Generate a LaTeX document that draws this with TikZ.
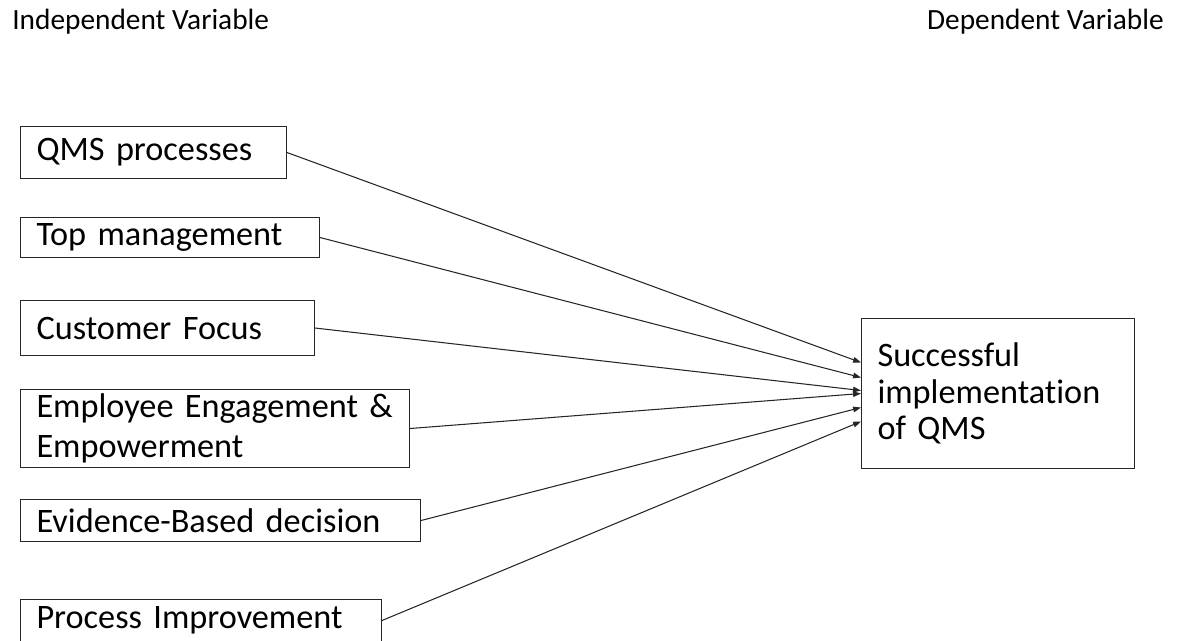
\documentclass[tikz,border=0pt]{standalone}
\usepackage{fontspec}
\setmainfont{Carlito}[Ligatures=NoCommon]
\usetikzlibrary{arrows.meta}

\begin{document}
\begin{tikzpicture}[
        x=0.02cm, y=-0.02cm,
        % Box styles
        varbox/.style={rectangle, draw=black!85, line width=0.6pt, anchor=north west, inner xsep=0.32cm, inner ysep=0pt, align=left, font=\fontsize{19.5}{22.7}\selectfont},
        headlabel/.style={inner sep=0pt, font=\fontsize{16.7}{19}\selectfont},
        arrow/.style={draw=black!85, line width=0.6pt, -{Triangle[length=4.5pt, width=3.2pt]}}
    ]
    \useasboundingbox (0,0) rectangle (1178,641);

    % --- HEADINGS ---
    \node (indep) [headlabel, anchor=base west] at (12,30) {Independent Variable};
    \node (dep) [headlabel, anchor=base east] at (1164,30) {Dependent Variable};

    % --- INDEPENDENT VARIABLES ---
    \node (qms) [varbox, text width=4.68cm, minimum height=1.04cm] at (20,126) {QMS processes};
    \node (topm) [varbox, text width=5.34cm, minimum height=0.8cm] at (20,217) {Top management};
    \node (cust) [varbox, text width=5.24cm, minimum height=1.1cm] at (20,300) {Customer Focus};
    \node (empl) [varbox, text width=7.14cm, minimum height=1.56cm] at (20,389) {\mbox{Employee Engagement \&}\\Empowerment};
    \node (evid) [varbox, text width=7.36cm, minimum height=0.84cm] at (20,499) {Evidence-Based decision};
    \node (proc) [varbox, text width=6.58cm, minimum height=0.84cm] at (20,599) {Process Improvement};

    % --- DEPENDENT VARIABLE ---
    \node (succ) [varbox, text width=4.82cm, minimum height=3.0cm, font=\fontsize{19.5}{20.8}\selectfont] at (861,318) {Successful\\implementation\\of QMS};

    % --- DRAWING THE CONNECTING ARROWS ---
    \draw [arrow] (qms.east) -- ([yshift=0.62cm]succ.west);
    \draw [arrow] (topm.east) -- ([yshift=0.32cm]succ.west);
    \draw [arrow] (cust.east) -- ([yshift=0.06cm]succ.west);
    \draw [arrow] (empl.east) -- (succ.west);
    \draw [arrow] (evid.east) -- ([yshift=-0.28cm]succ.west);
    \draw [arrow] (proc.east) -- ([yshift=-0.56cm]succ.west);

    \end{tikzpicture}
\end{document}
